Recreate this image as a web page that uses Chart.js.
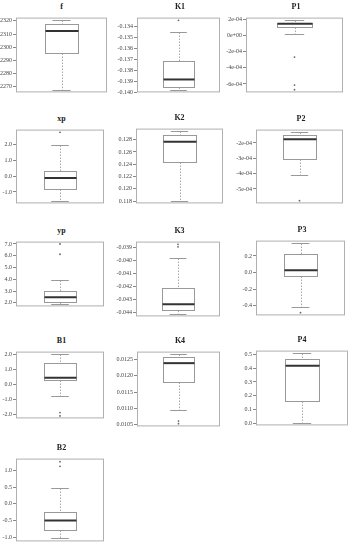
<!DOCTYPE html>
<html>
<head>
<meta charset="utf-8">
<script src="https://cdn.jsdelivr.net/npm/chart.js@4.4.0/dist/chart.umd.min.js"></script>
<style>
body { margin: 0; background: #fff; width: 353px; height: 550px; position: relative; overflow: hidden; font-family: "Liberation Serif", serif; }
.panel { position: absolute; }
.title { position: absolute; width: 60px; text-align: center; font-weight: bold; font-size: 8px; line-height: 10px; color: #222; }
</style>
</head>
<body>
<script>
// boxplot statistics, one entry per panel
const names = ['f', 'K1', 'P1', 'xp', 'K2', 'P2', 'yp', 'K3', 'P3', 'B1', 'K4', 'P4', 'B2'];
const whiskerLow = [2267.9, -0.13977, 0.18e-4, -1.55, 0.11809, -4.12e-4, 1.9, -0.04412, -0.411, -0.71, 0.01095, 0.005, -1.03];
const q1 = [2295.4, -0.13949, 1.02e-4, -0.79, 0.12436, -3.04e-4, 2.08, -0.04383, -0.041, 0.31, 0.01182, 0.162, -0.79];
const median = [2312.4, -0.13884, 1.48e-4, -0.11, 0.12764, -1.76e-4, 2.47, -0.0434, 0.026, 0.48, 0.01239, 0.417, -0.5];
const q3 = [2317.4, -0.13717, 1.62e-4, 0.36, 0.12869, -1.51e-4, 2.99, -0.04211, 0.222, 1.47, 0.01257, 0.466, -0.24];
const whiskerHigh = [2320.4, -0.13451, 1.89e-4, 1.95, 0.12934, -1.31e-4, 3.96, -0.03981, 0.352, 2.05, 0.01266, 0.507, 0.47];
const outliers = [
  [], [-0.13343], [-2.66e-4, -6.13e-4, -6.7e-4],
  [2.78], [], [-5.76e-4],
  [7.0, 6.13], [-0.03874, -0.03893], [-0.485],
  [-1.85, -2.07], [0.01061, 0.01053], [],
  [1.26, 1.12]
];
const yTicks = [
  [2270, 2280, 2290, 2300, 2310, 2320],
  [-0.140, -0.139, -0.138, -0.137, -0.136, -0.135, -0.134],
  [-6e-4, -4e-4, -2e-4, 0, 2e-4],
  [-1, 0, 1, 2],
  [0.118, 0.120, 0.122, 0.124, 0.126, 0.128],
  [-5e-4, -4e-4, -3e-4, -2e-4],
  [2, 3, 4, 5, 6, 7],
  [-0.044, -0.043, -0.042, -0.041, -0.040, -0.039],
  [-0.4, -0.2, 0, 0.2],
  [-2, -1, 0, 1, 2],
  [0.0105, 0.0110, 0.0115, 0.0120, 0.0125],
  [0, 0.1, 0.2, 0.3, 0.4, 0.5],
  [-1, -0.5, 0, 0.5, 1]
];
const yTickLabels = [
  ['2270', '2280', '2290', '2300', '2310', '2320'],
  ['-0.140', '-0.139', '-0.138', '-0.137', '-0.136', '-0.135', '-0.134'],
  ['-6e-04', '-4e-04', '-2e-04', '0e+00', '2e-04'],
  ['-1.0', '0.0', '1.0', '2.0'],
  ['0.118', '0.120', '0.122', '0.124', '0.126', '0.128'],
  ['-5e-04', '-4e-04', '-3e-04', '-2e-04'],
  ['2.0', '3.0', '4.0', '5.0', '6.0', '7.0'],
  ['-0.044', '-0.043', '-0.042', '-0.041', '-0.040', '-0.039'],
  ['-0.4', '-0.2', '0.0', '0.2'],
  ['-2.0', '-1.0', '0.0', '1.0', '2.0'],
  ['0.0105', '0.0110', '0.0115', '0.0120', '0.0125'],
  ['0.0', '0.1', '0.2', '0.3', '0.4', '0.5'],
  ['-1.0', '-0.5', '0.0', '0.5', '1.0']
];

// plot frame of each panel: left, top, width, height
const frames = [
  [16, 14, 91, 82], [137, 14, 86, 82], [246, 14, 100, 82],
  [16, 126, 91, 81], [136, 125, 87, 82], [256, 126, 90, 81],
  [16, 238, 91, 72], [136, 238, 87, 82], [256, 237, 92, 82],
  [16, 348, 91, 74], [137, 348, 86, 82], [256, 347, 92, 82],
  [16, 455, 91, 90]
];
const AXIS_W = 40;
const BOX_HALF = 0.185;
const CAP_HALF = 0.1;

const boxPlugin = {
  id: 'boxplot',
  afterDatasetsDraw(chart, args, opts) {
    const { ctx, scales: { x, y } } = chart;
    const i = opts.index;
    const cx = Math.round(x.getPixelForValue(0.5)) + 0.5;
    const bl = Math.round(x.getPixelForValue(0.5 - BOX_HALF)) + 0.5;
    const br = Math.round(x.getPixelForValue(0.5 + BOX_HALF)) + 0.5;
    const cl = x.getPixelForValue(0.5 - CAP_HALF);
    const cr = x.getPixelForValue(0.5 + CAP_HALF);
    const py = v => Math.round(y.getPixelForValue(v)) + 0.5;
    ctx.save();
    ctx.lineWidth = 1;
    // whiskers
    ctx.strokeStyle = '#a8a8a8';
    ctx.setLineDash([1.5, 1.5]);
    ctx.beginPath();
    ctx.moveTo(cx, py(whiskerHigh[i])); ctx.lineTo(cx, py(q3[i]));
    ctx.moveTo(cx, py(q1[i])); ctx.lineTo(cx, py(whiskerLow[i]));
    ctx.stroke();
    ctx.setLineDash([]);
    // caps
    ctx.strokeStyle = '#999';
    ctx.beginPath();
    ctx.moveTo(cl, py(whiskerHigh[i])); ctx.lineTo(cr, py(whiskerHigh[i]));
    ctx.moveTo(cl, py(whiskerLow[i])); ctx.lineTo(cr, py(whiskerLow[i]));
    ctx.stroke();
    // box
    ctx.strokeStyle = '#999';
    ctx.strokeRect(bl, py(q3[i]), br - bl, py(q1[i]) - py(q3[i]));
    // median
    ctx.strokeStyle = '#333';
    ctx.lineWidth = 2;
    ctx.beginPath();
    ctx.moveTo(bl, y.getPixelForValue(median[i]));
    ctx.lineTo(br, y.getPixelForValue(median[i]));
    ctx.stroke();
    ctx.restore();
  },
  afterDraw(chart) {
    const { ctx, chartArea: a } = chart;
    ctx.save();
    ctx.strokeStyle = '#b0b0b0';
    ctx.lineWidth = 1;
    ctx.strokeRect(a.left + 0.5, a.top + 0.5, a.width - 1, a.height - 1);
    ctx.restore();
  }
};

names.forEach((name, i) => {
  const [fx, fy, fw, fh] = frames[i];
  const all = [whiskerLow[i], whiskerHigh[i], ...outliers[i]];
  const lo = Math.min(...all), hi = Math.max(...all);
  const ext = (hi - lo) * 0.04;

  const wrap = document.createElement('div');
  wrap.className = 'panel';
  wrap.style.left = (fx - AXIS_W) + 'px';
  wrap.style.top = (fy - 1) + 'px';
  const canvas = document.createElement('canvas');
  canvas.width = fw + AXIS_W + 1;
  canvas.height = fh + 2;
  wrap.appendChild(canvas);
  document.body.appendChild(wrap);

  const title = document.createElement('div');
  title.className = 'title';
  title.textContent = name;
  title.style.left = (fx + fw / 2 - 30) + 'px';
  title.style.top = (fy - 12) + 'px';
  document.body.appendChild(title);

  new Chart(canvas, {
    type: 'scatter',
    data: {
      datasets: [{
        data: outliers[i].map(v => ({ x: 0.5, y: v })),
        pointRadius: 0.9,
        pointBackgroundColor: '#666',
        pointBorderWidth: 0
      }]
    },
    options: {
      responsive: false,
      animation: false,
      events: [],
      layout: { padding: { left: 0, right: 1, top: 1, bottom: 1 } },
      plugins: { legend: { display: false }, tooltip: { enabled: false }, boxplot: { index: i } },
      scales: {
        x: { type: 'linear', min: 0, max: 1, display: false },
        y: {
          min: lo - ext,
          max: hi + ext,
          afterFit: s => { s.width = AXIS_W; },
          afterBuildTicks: s => { s.ticks = yTicks[i].map(v => ({ value: v })); },
          border: { display: false },
          grid: { drawOnChartArea: false, drawTicks: true, tickLength: 3, color: '#888' },
          ticks: {
            autoSkip: false,
            padding: 1,
            color: '#444',
            font: { family: 'Liberation Serif', size: 6 },
            callback: (v, idx) => yTickLabels[i][idx]
          }
        }
      }
    },
    plugins: [boxPlugin]
  });
});
</script>
</body>
</html>
